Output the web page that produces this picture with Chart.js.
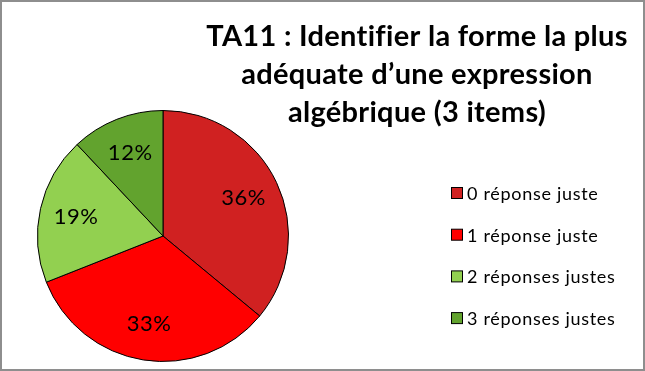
<!DOCTYPE html>
<html lang="fr">
<head>
<meta charset="utf-8">
<title>TA11</title>
<script src="https://cdn.jsdelivr.net/npm/chart.js@4.4.1/dist/chart.umd.min.js"></script>
<style>
    html, body { margin: 0; padding: 0; background: #fff; }
    #wrap { position: relative; width: 645px; height: 371px; }
</style>
</head>
<body>
<div id="wrap"><canvas id="graphTA11" width="645" height="371"></canvas></div>
<script>
const categories = ['0 réponse juste', '1 réponse juste', '2 réponses justes', '3 réponses justes'];
const valeurs = [36, 33, 19, 12];
const couleurs = ['#D02121', '#FF0000', '#92D050', '#62A32E'];
const titreLignes = ['TA11 : Identifier la forme la plus', 'adéquate d\u2019une expression', 'algébrique (3 items)'];

const POLICE = 'Lato, "Open Sans", sans-serif';

// cadre, titre, légende et étiquettes de pourcentage
const habillage = {
    id: 'habillage',
    afterDraw(chart) {
        const ctx = chart.ctx;
        ctx.save();

        ctx.strokeStyle = '#8e8e8e';
        ctx.lineWidth = 2;
        ctx.strokeRect(1, 1, chart.width - 2, chart.height - 2);

        ctx.fillStyle = '#000';
        ctx.textAlign = 'center';
        ctx.textBaseline = 'alphabetic';
        ctx.font = 'bold 29px ' + POLICE;
        ctx.letterSpacing = '0.3px';
        titreLignes.forEach(function (ligne, i) {
            ctx.fillText(ligne, 417, 46 + i * 38);
        });

        ctx.font = '18px ' + POLICE;
        ctx.letterSpacing = '0.7px';
        ctx.textAlign = 'left';
        ctx.textBaseline = 'middle';
        categories.forEach(function (nom, i) {
            const y = 194 + i * 41.7;
            ctx.fillStyle = couleurs[i];
            ctx.fillRect(451.5, y - 6.5, 11, 11);
            ctx.strokeStyle = '#000';
            ctx.lineWidth = 1;
            ctx.strokeRect(451.5, y - 6.5, 11, 11);
            ctx.fillStyle = '#000';
            ctx.fillText(nom, 467, y);
        });

        const meta = chart.getDatasetMeta(0);
        ctx.font = '22px ' + POLICE;
        ctx.letterSpacing = '0.5px';
        ctx.textAlign = 'center';
        meta.data.forEach(function (arc, i) {
            const milieu = (arc.startAngle + arc.endAngle) / 2;
            const r = arc.outerRadius * 0.71;
            ctx.fillText(valeurs[i] + '%', arc.x + Math.cos(milieu) * r, arc.y + Math.sin(milieu) * r);
        });

        ctx.restore();
    }
};

new Chart(document.getElementById('graphTA11'), {
    type: 'pie',
    data: {
        labels: categories,
        datasets: [{
            data: valeurs,
            backgroundColor: couleurs,
            borderColor: '#000',
            borderWidth: 1
        }]
    },
    options: {
        responsive: false,
        animation: false,
        layout: {
            padding: { left: 37, top: 110, right: 356, bottom: 9 }
        },
        plugins: {
            legend: { display: false },
            title: { display: false },
            tooltip: { enabled: false }
        }
    },
    plugins: [habillage]
});
</script>
</body>
</html>
